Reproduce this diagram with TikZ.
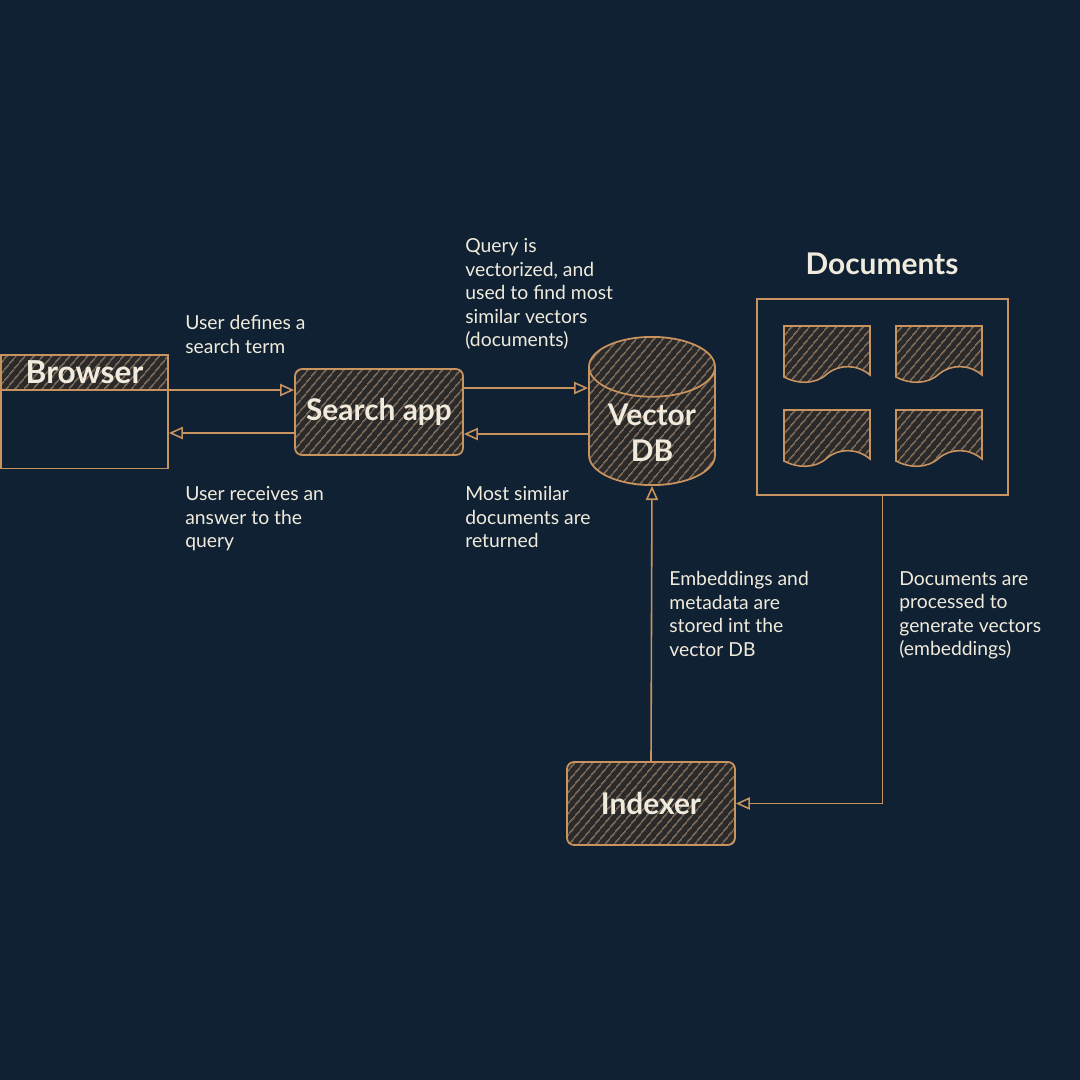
\documentclass[tikz,border=0pt]{standalone}
\usepackage{fontspec}
\setmainfont{Lato}
\usepackage{tikz}
\usetikzlibrary{arrows.meta,calc,patterns.meta,positioning,shapes.geometric}
\definecolor{bgnavy}{HTML}{102133}
\definecolor{sketch}{HTML}{C8935E}
\definecolor{chalk}{HTML}{F0EBDC}
\definecolor{hatchbg}{HTML}{2B2A2B}

\begin{document}
\begin{tikzpicture}[x=0.02cm,y=-0.02cm,
  hatched/.style={preaction={fill=hatchbg}, pattern={Lines[angle=50,distance=4pt,line width=0.5pt]}, pattern color=sketch!85},
  box/.style={draw=sketch, line width=1pt, rounded corners=4pt, hatched, text=chalk, font=\fontsize{17}{20}\selectfont\bfseries, minimum width=3.36cm},
  sheet/.style={draw=sketch, line width=0.9pt, hatched},
  note/.style={text=chalk, font=\fontsize{11}{13.4}\selectfont, align=left, anchor=north west, inner sep=0pt},
  flow/.style={draw=sketch, line width=0.9pt, -{Triangle[open,length=8pt,width=7pt]}}]
\fill[bgnavy] (0,0) rectangle (1080,1080);
\useasboundingbox (0,0) rectangle (1080,1080);

\node[draw=sketch, line width=1pt, minimum width=3.34cm, minimum height=2.26cm] (browser) at (84.5,412) {};
\node[box, rounded corners=0pt, minimum width=3.34cm, minimum height=0.7cm, inner sep=0pt, anchor=north, font=\fontsize{18}{20}\selectfont\bfseries] (browsertitle) at (browser.north) {Browser};
\node[box, minimum height=1.72cm] (search) at (379,412) {Search app};
\node[cylinder, shape border rotate=90, aspect=0.6, anchor=shape center, draw=sketch, line width=1pt, hatched, minimum width=2.52cm, minimum height=2.74cm, align=center, text=chalk, font=\fontsize{17}{21}\selectfont\bfseries] (vdb) at (652,411) {Vector\\DB};
\node[box, minimum height=1.66cm] (indexer) at (651,803.5) {Indexer};
\node[draw=sketch, line width=1pt, minimum width=5.02cm, minimum height=3.92cm] (docs) at (882.5,397) {};
\node[text=chalk, font=\fontsize{17}{20}\selectfont\bfseries] (docstitle) at (882,264) {Documents};

\foreach \cx/\cy in {827/354,939/354,827/438,939/438}
  \draw[sheet, shift={(\cx,\cy)}] (-43,-28) -- (43,-28) -- (43,21) .. controls (30,10) and (12,10) .. (0,20) .. controls (-12,31) and (-30,30) .. (-43,23) -- cycle;

\draw[flow] ([yshift=0.44cm]browser.east) -- ([yshift=0.44cm]search.west);
\draw[flow] ([yshift=-0.42cm]search.west) -- ([yshift=-0.42cm]browser.east);
\draw[flow] ([yshift=0.48cm]search.east) -- ([yshift=0.48cm]search.east -| vdb.west);
\draw[flow] ([yshift=-0.44cm]search.east -| vdb.west) -- ([yshift=-0.44cm]search.east);
\draw[flow] (indexer.north) -- (vdb.south);
\draw[flow] (docs.south) |- (indexer.east);

\node[note] (lbldefine) at (185,315) {User defines a\\search term};
\node[note] (lblreceive) at (185,486) {User receives an\\answer to the\\query};
\node[note] (lblquery) at (465,238) {Query is\\vectorized, and\\used to find most\\similar vectors\\(documents)};
\node[note] (lblreturn) at (465,486) {Most similar\\documents are\\returned};
\node[note] (lblstore) at (669,571) {Embeddings and\\metadata are\\stored int the\\vector DB};
\node[note] (lblprocess) at (899,571) {Documents are\\processed to\\generate vectors\\(embeddings)};
\end{tikzpicture}
\end{document}
